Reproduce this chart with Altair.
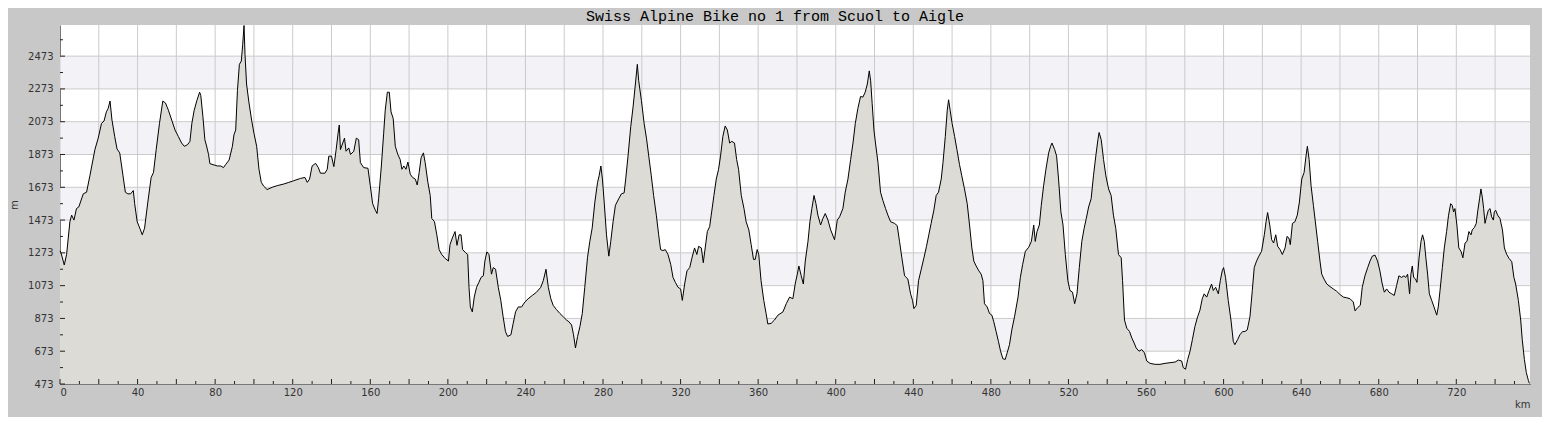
import altair as alt
import pandas as pd

TITLE = "Swiss Alpine Bike no 1 from Scuol to Aigle"

KM = [0, 0.5, 2.2, 3.4, 5.1, 6, 7.2, 8.5, 9.7, 12, 13.7, 15.4, 18, 19.7, 21.4, 22.7, 23.9, 24.8, 25.8, 26.8,
      28.2, 29.4, 30.8, 32.5, 33.7, 35, 36.4, 37.8, 38.5, 39.8, 41.5, 42.4, 43.6, 45.3, 47, 48.2, 49.6, 51.3, 53, 54.4,
      55.9, 57.6, 59.3, 61, 62.7, 64.1, 65.8, 67, 68, 69.2, 70.6, 72, 72.6, 73.7, 74.7, 75.7, 76.6, 77.3, 79.5, 81.2,
      82.9, 84.3, 85.5, 87.2, 88.9, 89.7, 90.6, 91.5, 92.5, 93.5, 94.2, 94.9, 95.4, 96.2, 97.4, 98.8, 100, 101.4, 102.6, 103.8,
      105.1, 106.8, 109.4, 112, 115.4, 118, 120.5, 124, 126.3, 127.5, 128.7, 130, 131.8, 133.2, 134.3, 136.6, 137.8, 138.6, 140, 141.2,
      142.4, 143.4, 144, 144.6, 145.8, 146.7, 147.5, 148.9, 149.8, 151.5, 152.8, 154, 154.9, 156.6, 158.8, 160, 161.2, 162.6, 163.5, 164.3,
      165.7, 166.9, 167.7, 168.8, 169.8, 170.7, 171.8, 172.9, 174.2, 175.4, 176.3, 177.3, 178.4, 179.4, 180.6, 181.8, 183.2, 184.2, 185.2, 186.2,
      187.4, 188.3, 189.7, 190.9, 191.7, 193.1, 194.3, 195.5, 196.8, 198.6, 200.3, 201.1, 202.3, 203.7, 204.7, 205.8, 206.8, 207.6, 209.2, 210.2,
      210.9, 211.6, 212.6, 213.6, 214.8, 216, 217.1, 218.3, 219.1, 220.1, 221.2, 222.5, 223.4, 224.6, 226, 227.3, 228.5, 229.7, 230.8, 232.5,
      233.7, 234.9, 236.3, 238, 239.7, 241.4, 243.5, 245.7, 247.9, 249.2, 250.6, 251.8, 253.1, 254.3, 256, 257.8, 259.5, 261.2, 262.4, 263.8,
      264.8, 265.8, 266.9, 268.1, 269.3, 270.6, 272, 273.2, 274.4, 275.8, 277.2, 278, 278.9, 279.7, 280.6, 281.8, 283, 284, 285.2, 286.4,
      288.1, 289.5, 290.9, 291.7, 292.9, 294.3, 295.5, 296.7, 297.7, 298.4, 299.8, 301.2, 302.4, 303.6, 304.9, 306.1, 307.5, 308.7, 309.7, 310.9,
      312.1, 313.5, 314.9, 316.1, 317.3, 318.7, 320, 320.9, 322.1, 323.3, 324.7, 325.9, 327.2, 328.4, 329.3, 330.7, 331.7, 332.7, 333.8, 335,
      335.8, 337.2, 338.4, 339.6, 340.6, 341.8, 343, 344.1, 345.3, 346.4, 347.8, 348.9, 349.9, 351.3, 352.7, 353.8, 355.2, 356.4, 357.6, 358.5,
      359.5, 360.3, 361.5, 362.9, 364.1, 365, 366.7, 368.4, 370.2, 372.8, 374.5, 376.2, 377.9, 379.1, 380.2, 381, 382.2, 383.3, 384.3, 385.7,
      386.7, 387.7, 388.8, 389.8, 390.8, 392.2, 393.4, 394.6, 396, 397.4, 399.4, 400.8, 402, 403.7, 404.9, 406.3, 407.7, 408.9, 410.1, 411.4,
      412.8, 414, 415.2, 416.3, 417.3, 418, 418.8, 419.7, 420.5, 421.8, 423.1, 424.3, 425.7, 426.9, 428.3, 430.3, 431.7, 432.9, 434.1, 435.5,
      437.2, 438.6, 439.6, 440.3, 441.5, 442.7, 444.1, 445.5, 446.8, 448, 449.2, 450.6, 451.8, 453, 454.4, 455.3, 456.5, 457.5, 458.2, 459,
      460, 461.3, 462.5, 463.8, 465, 466.4, 467.8, 469, 470.2, 471.2, 472.4, 473.8, 475, 475.9, 476.7, 478.1, 479.3, 480.5, 481.5, 482.7,
      483.9, 485, 486.2, 487.4, 488.4, 489.6, 490.8, 492.2, 494, 495.2, 496.4, 497.8, 499.5, 500.9, 502.1, 502.9, 503.8, 505, 506, 507.2,
      508.4, 509.8, 510.8, 511.5, 512.9, 513.9, 514.9, 516.1, 517.2, 518.4, 519.7, 520.8, 522.1, 523.2, 524.4, 525.6, 526.9, 528.1, 529.2, 530.4,
      531.7, 532.9, 534.1, 535.2, 535.8, 536.9, 538.1, 539.3, 540.7, 542, 543.2, 544.4, 545.8, 547.2, 547.9, 548.9, 550.1, 551.5, 552.7, 553.9,
      554.9, 556.4, 557.8, 559.2, 560.4, 562.1, 564.7, 567.2, 569.8, 572.4, 575, 576.7, 578.4, 579.2, 580.4, 581.5, 582.7, 583.9, 585.2, 586.6,
      587.8, 589, 590, 591.3, 592.5, 593.8, 594.7, 595.9, 597.3, 598.3, 599.3, 600, 601, 602.4, 603.8, 605, 605.8, 607.2, 608.4, 609.8,
      611, 612.2, 613.6, 614.8, 615.8, 617, 618.2, 619.6, 621, 621.9, 622.7, 623.8, 624.8, 625.8, 626.9, 627.9, 629.1, 630.3, 631.7, 632.7,
      633.7, 634.4, 635.5, 636.8, 638, 639.1, 640.3, 641.5, 642.5, 643.2, 644.1, 645.1, 646.3, 647.5, 648.5, 649.7, 650.6, 651.8, 653.2, 654.9,
      656.6, 658.3, 660, 661.8, 663.5, 665.2, 666.9, 667.8, 669.1, 670.5, 671.5, 672.9, 674.3, 675.5, 676.7, 678.1, 679.4, 680.6, 681.8, 682.9,
      684.1, 685.3, 686.7, 688, 689.2, 690.4, 691.8, 693, 693.9, 694.9, 695.9, 696.6, 697.3, 698, 699, 699.7, 700.8, 701.8, 702.6, 703.5,
      704.3, 705.2, 706.1, 707.3, 708.5, 709.9, 710.7, 711.6, 712.8, 713.8, 715, 716, 717.1, 717.9, 718.6, 719.3, 720.3, 721.3, 722.4, 723.4,
      724.5, 725.5, 726.5, 727.6, 728.2, 729.3, 730.3, 731, 732, 732.7, 733.4, 734.1, 734.8, 735.6, 736.5, 737.4, 738.2, 739.1, 739.6, 740.3,
      741.3, 742.5, 743.8, 744.8, 746, 747.2, 748.6, 749.7, 750.6, 752, 753.2, 754, 755.1, 756.1, 757.2, 757.7]

ELEV = [1285, 1273, 1199, 1263, 1463, 1503, 1473, 1543, 1553, 1633, 1643, 1743, 1903, 1973, 2063, 2077, 2133, 2153, 2199, 2083,
        1983, 1907, 1883, 1743, 1643, 1633, 1633, 1653, 1573, 1463, 1413, 1383, 1423, 1583, 1733, 1763, 1903, 2063, 2199, 2187,
        2143, 2083, 2023, 1983, 1943, 1923, 1933, 1953, 2063, 2143, 2203, 2253, 2233, 2103, 1963, 1919, 1873, 1817, 1809, 1803,
        1803, 1793, 1813, 1839, 1923, 1993, 2023, 2263, 2423, 2443, 2543, 2660, 2483, 2303, 2193, 2083, 2003, 1923, 1783, 1703,
        1679, 1659, 1673, 1683, 1693, 1703, 1713, 1727, 1733, 1703, 1723, 1803, 1819, 1793, 1759, 1759, 1783, 1863, 1863, 1799,
        1903, 2003, 2053, 1903, 1943, 1973, 1893, 1913, 1873, 1893, 1973, 1963, 1823, 1793, 1789, 1683, 1573, 1533, 1513, 1603,
        1803, 2003, 2143, 2253, 2253, 2133, 2093, 1923, 1873, 1843, 1783, 1803, 1783, 1827, 1753, 1733, 1723, 1687, 1763, 1853,
        1883, 1823, 1703, 1623, 1483, 1463, 1383, 1293, 1263, 1239, 1223, 1323, 1363, 1403, 1319, 1383, 1383, 1293, 1273, 1263,
        1063, 943, 913, 1003, 1063, 1093, 1123, 1133, 1223, 1279, 1263, 1143, 1183, 1173, 1063, 983, 883, 793, 763, 773,
        843, 913, 943, 943, 973, 993, 1013, 1033, 1063, 1103, 1173, 1063, 993, 953, 927, 903, 883, 863, 853, 833,
        773, 693, 763, 823, 903, 1063, 1243, 1343, 1423, 1583, 1703, 1743, 1803, 1723, 1583, 1383, 1253, 1343, 1463, 1563,
        1603, 1633, 1639, 1723, 1863, 2043, 2163, 2303, 2423, 2323, 2203, 2063, 1973, 1863, 1743, 1623, 1503, 1383, 1293, 1287,
        1293, 1263, 1203, 1123, 1093, 1063, 1053, 983, 1083, 1163, 1183, 1243, 1303, 1263, 1313, 1303, 1213, 1303, 1403, 1433,
        1503, 1623, 1723, 1783, 1863, 1983, 2047, 2023, 1943, 1953, 1943, 1843, 1783, 1623, 1543, 1463, 1413, 1323, 1233, 1233,
        1293, 1263, 1103, 983, 903, 839, 843, 863, 893, 913, 963, 1003, 993, 1083, 1143, 1193, 1133, 1083, 1223, 1343,
        1463, 1543, 1623, 1573, 1503, 1443, 1483, 1513, 1473, 1413, 1353, 1473, 1493, 1543, 1643, 1723, 1843, 1943, 2063, 2153,
        2227, 2223, 2253, 2303, 2383, 2323, 2183, 2023, 1943, 1823, 1643, 1593, 1543, 1503, 1463, 1453, 1439, 1343, 1243, 1133,
        1113, 1023, 983, 933, 953, 1103, 1173, 1243, 1313, 1383, 1453, 1533, 1623, 1643, 1723, 1823, 1983, 2143, 2207, 2143,
        2063, 1983, 1903, 1813, 1743, 1663, 1573, 1443, 1303, 1223, 1193, 1163, 1143, 1103, 963, 943, 903, 893, 853, 793,
        733, 673, 627, 623, 663, 713, 803, 883, 1003, 1123, 1203, 1283, 1307, 1343, 1443, 1343, 1403, 1443, 1563, 1683,
        1783, 1883, 1923, 1943, 1903, 1863, 1723, 1523, 1443, 1263, 1103, 1043, 1033, 963, 1023, 1183, 1343, 1423, 1483, 1553,
        1603, 1743, 1863, 1963, 2007, 1963, 1843, 1743, 1663, 1623, 1503, 1423, 1263, 1243, 1103, 863, 813, 793, 753, 723,
        693, 673, 683, 663, 613, 599, 593, 593, 599, 603, 607, 619, 613, 573, 563, 623, 673, 743, 823, 883,
        923, 993, 1023, 1003, 1043, 1083, 1043, 1063, 1023, 1103, 1163, 1183, 1123, 983, 863, 733, 713, 743, 773, 793,
        793, 803, 883, 1043, 1183, 1223, 1253, 1283, 1383, 1463, 1519, 1443, 1353, 1333, 1383, 1313, 1293, 1263, 1303, 1373,
        1363, 1323, 1453, 1463, 1503, 1583, 1723, 1763, 1863, 1923, 1843, 1683, 1563, 1443, 1343, 1223, 1143, 1113, 1083, 1067,
        1053, 1039, 1019, 1003, 999, 993, 973, 919, 939, 953, 1063, 1133, 1183, 1223, 1253, 1259, 1223, 1163, 1083, 1033,
        1053, 1033, 1023, 1013, 1073, 1133, 1123, 1133, 1123, 1143, 1023, 1143, 1193, 1123, 1113, 1093, 1243, 1343, 1383, 1343,
        1243, 1143, 1023, 983, 943, 893, 943, 1043, 1183, 1303, 1403, 1503, 1573, 1563, 1523, 1543, 1443, 1303, 1283, 1243,
        1333, 1343, 1403, 1383, 1413, 1427, 1453, 1523, 1603, 1663, 1613, 1543, 1453, 1493, 1533, 1543, 1493, 1473, 1523, 1533,
        1503, 1483, 1413, 1303, 1263, 1239, 1219, 1123, 1083, 983, 863, 743, 623, 543, 493, 477]

BAND_LO = [673, 1073, 1473, 1873, 2273]
BAND_HI = [873, 1273, 1673, 2073, 2473]
Y_LABELS = [473, 673, 873, 1073, 1273, 1473, 1673, 1873, 2073, 2273, 2473]
Y_MINOR = [573, 773, 973, 1173, 1373, 1573, 1773, 1973, 2173, 2373, 2573]
X_GRID = list(range(0, 760, 20))
X_MINOR = list(range(10, 760, 20))

X_MIN, X_MAX = 0, 758
Y_MIN, Y_MAX = 473, 2663
W, H = 1470, 359

profile = pd.DataFrame({"km": KM, "m": ELEV})
bands = pd.DataFrame({"lo": BAND_LO, "hi": BAND_HI})
ygrid = pd.DataFrame({"v": Y_LABELS})
yminor = pd.DataFrame({"v": Y_MINOR})
xgrid = pd.DataFrame({"v": X_GRID})
xminor = pd.DataFrame({"v": X_MINOR})

xs = alt.Scale(domain=[X_MIN, X_MAX], nice=False, zero=False)
ys = alt.Scale(domain=[Y_MIN, Y_MAX], nice=False, zero=False)

x_axis = alt.Axis(values=X_GRID, title="km", grid=False, ticks=False, tickSize=0,
                  format="d", labelOverlap=False,
                  labelExpr="datum.value % 40 == 0 ? datum.label : ''",
                  labelPadding=3, titleX=W, titleY=20, titleAlign="right",
                  titleBaseline="middle", titleAnchor="end")
y_axis = alt.Axis(values=Y_LABELS, title="m", grid=False, ticks=False, tickSize=0,
                  format="d", labelOverlap=False,
                  labelPadding=7, titleX=-46, titleY=H / 2, titleAngle=-90,
                  titleAlign="center", titleBaseline="middle", titleAnchor="middle")


def X(field):
    return alt.X(field, type="quantitative", scale=xs, axis=x_axis, title="km")


def Y(field):
    return alt.Y(field, type="quantitative", scale=ys, axis=y_axis, title="m")


band_layer = alt.Chart(bands).mark_rect(color="#f3f2f6").encode(
    x=alt.value(0), x2=alt.value(W), y=Y("lo"), y2="hi:Q")

hgrid_layer = alt.Chart(ygrid).mark_rule(color="#cbcbcb", strokeWidth=1).encode(
    x=alt.value(0), x2=alt.value(W), y=Y("v"))

vgrid_layer = alt.Chart(xgrid).mark_rule(color="#cbcbcb", strokeWidth=1).encode(
    x=X("v"), y=alt.value(0), y2=alt.value(H))

area_layer = alt.Chart(profile).mark_area(color="#dcdbd6", opacity=1, interpolate="linear").encode(
    x=X("km"), y=Y("m"), y2=alt.datum(Y_MIN))

line_layer = alt.Chart(profile).mark_line(color="black", strokeWidth=1, interpolate="linear").encode(
    x=X("km"), y=Y("m"))

xt_major = alt.Chart(xgrid).mark_rule(color="#222222", strokeWidth=1).encode(
    x=X("v"), y=alt.value(H), y2=alt.value(H - 5))
xt_minor = alt.Chart(xminor).mark_rule(color="#222222", strokeWidth=1).encode(
    x=X("v"), y=alt.value(H), y2=alt.value(H - 3))
yt_major = alt.Chart(ygrid).mark_rule(color="#222222", strokeWidth=1).encode(
    y=Y("v"), x=alt.value(0), x2=alt.value(5))
yt_minor = alt.Chart(yminor).mark_rule(color="#222222", strokeWidth=1).encode(
    y=Y("v"), x=alt.value(0), x2=alt.value(3))

chart = alt.layer(
    band_layer, hgrid_layer, vgrid_layer, area_layer, line_layer,
    xt_major, xt_minor, yt_major, yt_minor
).properties(
    width=W, height=H,
    autosize=alt.AutoSizeParams(type="none"),
    padding={"left": 52, "top": 17, "right": 12, "bottom": 33},
    background="#c8c8c8",
    title=alt.TitleParams(TITLE, font="Liberation Mono", fontSize=15, fontWeight="normal",
                          color="black", anchor="middle", offset=0, dy=1, dx=-20),
).configure_view(
    fill="white", stroke=None
).configure_axis(
    labelFont="DejaVu Sans", labelFontSize=10, labelColor="#333333",
    titleFont="DejaVu Sans", titleFontSize=10, titleColor="#333333", titleFontWeight="normal",
    domainColor="#222222", domainWidth=1
)

chart.save("out.html", embed_options={"renderer": "svg", "actions": False})
